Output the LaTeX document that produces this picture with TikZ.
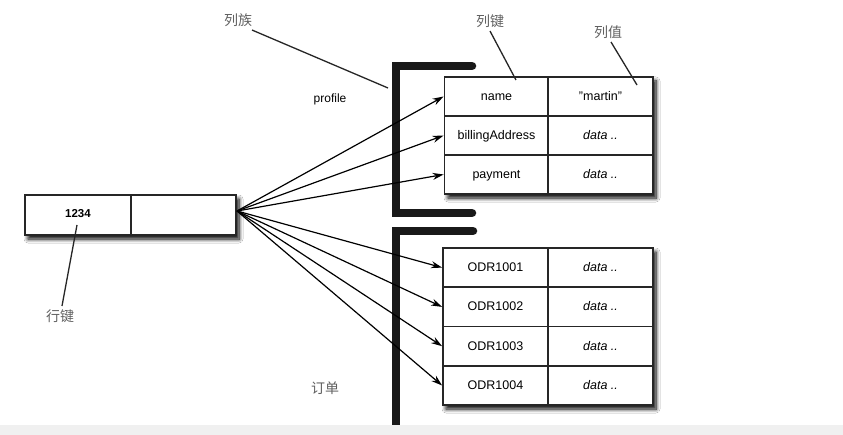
\documentclass[tikz,border=0pt]{standalone}
\usepackage{fontspec}
\setmainfont{Liberation Sans}
\newfontfamily\cjk{Noto Sans CJK SC}
\usetikzlibrary{arrows.meta,shadows.blur,fit}
\begin{document}
\begin{tikzpicture}[x=1pt,y=-1pt,
  cell/.style={draw=black!85,line width=1.8pt,minimum height=39.3pt,inner sep=0pt,text height=9pt,text depth=1pt,font=\fontsize{12.5}{14}\selectfont},
  kcell/.style={cell,minimum width=104pt},
  vcell/.style={cell,minimum width=105pt,font=\fontsize{12.5}{14}\selectfont\itshape},
  shadowbox/.style={fill=white,draw=none,blur shadow={shadow xshift=3pt,shadow yshift=-4pt,shadow blur steps=8,shadow blur radius=4pt,shadow opacity=100}},
  bracket/.style={line width=8.5pt,line cap=round,line join=miter,black!90},
  ptr/.style={line width=1.2pt,-{Stealth[length=11pt,width=7pt]}},
  lead/.style={line width=1.3pt,black!85},
  cjklab/.style={font=\cjk\fontsize{14}{16}\selectfont,text=black!62},
  lab/.style={font=\fontsize{12}{14}\selectfont}
]
\useasboundingbox (0,0) rectangle (843,435);
\fill[white] (0,0) rectangle (843,435);

% row key
\coordinate (rkA) at (25,195);
\coordinate (rkB) at (236,235);
\node[shadowbox,fit=(rkA)(rkB),inner sep=0pt] (rkbg) {};
\node[cell,minimum width=106pt,minimum height=40pt,text height=6pt,font=\fontsize{11.5}{13}\selectfont\bfseries] (rk1) at (78,215) {1234};
\node[cell,minimum width=105pt,minimum height=40pt] (rk2) at (183.5,215) {};
\coordinate (src) at (237,211);

% profile table
\coordinate (pA) at (445,77);
\coordinate (pB) at (653,194);
\node[shadowbox,fit=(pA)(pB),inner sep=0pt] (pbg) {};
\node[kcell] (p1) at (496.5,96.5) {name};
\node[vcell,font=\fontsize{12.5}{14}\selectfont] (p1v) at (600.5,96.5) {"martin"};
\node[kcell] (p2) at (496.5,135.5) {billingAddress};
\node[vcell] (p2v) at (600.5,135.5) {data ..};
\node[kcell] (p3) at (496.5,174.5) {payment};
\node[vcell] (p3v) at (600.5,174.5) {data ..};

% order table
\coordinate (oA) at (443,248);
\coordinate (oB) at (653,405);
\node[shadowbox,fit=(oA)(oB),inner sep=0pt] (obg) {};
\node[cell,minimum width=105pt] (o1) at (495.5,267.6) {ODR1001};
\node[vcell] (o1v) at (600.5,267.6) {data ..};
\node[cell,minimum width=105pt] (o2) at (495.5,306.9) {ODR1002};
\node[vcell] (o2v) at (600.5,306.9) {data ..};
\node[cell,minimum width=105pt] (o3) at (495.5,346.2) {ODR1003};
\node[vcell] (o3v) at (600.5,346.2) {data ..};
\node[cell,minimum width=105pt] (o4) at (495.5,385.5) {ODR1004};
\node[vcell] (o4v) at (600.5,385.5) {data ..};

% brackets
\draw[bracket] (472,66) -- (396,66) -- (396,213) -- (472,213);
\draw[bracket] (473,231) -- (396,231) -- (396,440);

% pointers
\foreach \t in {p1,p2,p3,o1,o2,o3,o4} \draw[ptr] (src) -- (\t.west);

% labels
\node[cjklab] (cf) at (238,20) {列族};
\node[cjklab] (ck) at (490,21) {列键};
\node[cjklab] (cv) at (608,32) {列值};
\node[cjklab] (rkl) at (60,316) {行键};
\node[cjklab] (ord) at (325,388) {订单};
\node[lab] (prof) at (330,99) {profile};
\coordinate (cfE) at (388,88);
\coordinate (ckE) at (516,80);
\coordinate (cvE) at (637,85);
\coordinate (rkE) at (77,225);
\draw[lead] (cf.south) ++(14,0) -- (cfE);
\draw[lead] (ck.south) -- (ckE);
\draw[lead] (cv.south) ++(3,0) -- (cvE);
\draw[lead] (rkl.north) ++(2,0) -- (rkE);

% bottom band
\fill[black!6] (0,425) rectangle (843,435);
\end{tikzpicture}
\end{document}
